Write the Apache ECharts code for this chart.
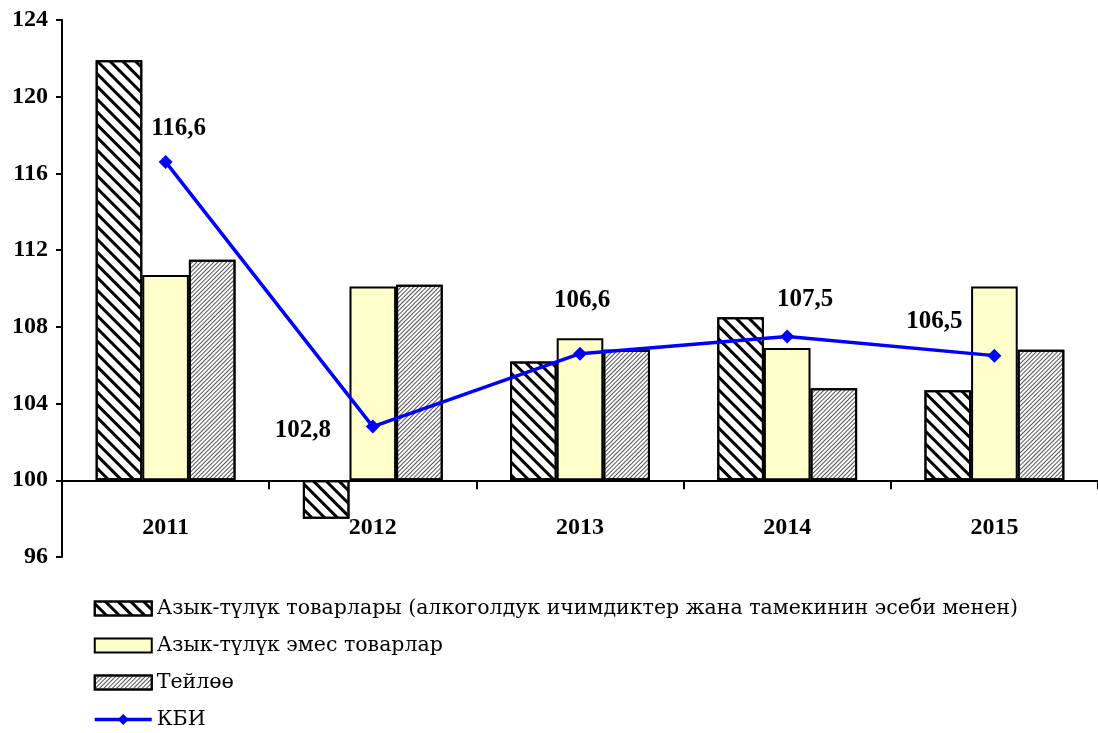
<!DOCTYPE html>
<html>
<head>
<meta charset="utf-8">
<script src="https://cdn.jsdelivr.net/npm/echarts@6/dist/echarts.min.js"></script>
<style>
  html, body { margin: 0; padding: 0; background: #fff; }
  #main { width: 1098px; height: 733px; }
</style>
</head>
<body>
<div id="main"></div>
<script>
// данные
var years = ['2011', '2012', '2013', '2014', '2015'];
var foodGoods = [121.9, 98.0, 106.2, 108.5, 104.7];
var nonFoodGoods = [110.7, 110.1, 107.4, 106.9, 110.1];
var tailoring = [111.5, 110.2, 106.8, 104.8, 106.8];
var cpi = [116.6, 102.8, 106.6, 107.5, 106.5];
var seriesNames = [
    'Азык-түлүк товарлары (алкоголдук ичимдиктер жана тамекинин эсеби менен)',
    'Азык-түлүк эмес товарлар',
    'Тейлөө',
    'КБИ'
];
var yTicks = [96, 100, 104, 108, 112, 116, 120, 124];

// ось проходит через 100, поэтому всё считаем от 100
var BASE = 100;
function shift(arr) {
    return arr.map(function (v) { return +(v - BASE).toFixed(2); });
}
function fmt(v) {
    return String(v).replace('.', ',');
}

// смещения подписей КБИ (в пикселях)
var labelOffsets = [[13, -33], [-70, 4], [2, -53], [18, -37], [-60, -34]];

var font = '"Liberation Serif", "DejaVu Serif", serif';

var cpiData = shift(cpi).map(function (v, i) {
    return {
        value: v,
        label: { offset: labelOffsets[i] }
    };
});

var barBorder = { borderColor: '#000', borderWidth: 2 };

var option = {
    backgroundColor: '#fff',
    animation: false,
    grid: {
        left: 62,
        right: -8,
        top: 20,
        bottom: 176
    },
    legend: {
        orient: 'vertical',
        left: 93,
        top: 598,
        padding: 0,
        itemWidth: 57,
        itemHeight: 14,
        itemGap: 16,
        textStyle: {
            fontFamily: '"DejaVu Serif", serif',
            fontSize: 20.5,
            color: '#000'
        },
        data: [
            { name: seriesNames[0], icon: 'rect' },
            { name: seriesNames[1], icon: 'rect' },
            { name: seriesNames[2], icon: 'rect' },
            { name: seriesNames[3], lineStyle: { width: 3.5 } }
        ]
    },
    xAxis: {
        type: 'category',
        data: years,
        axisLine: { onZero: true, lineStyle: { color: '#000', width: 2 } },
        axisTick: { show: true, length: 9, lineStyle: { color: '#000', width: 2 } },
        axisLabel: {
            margin: -41,
            fontFamily: font,
            fontWeight: 'bold',
            fontSize: 24,
            color: '#000'
        },
        splitLine: { show: false }
    },
    yAxis: {
        type: 'value',
        min: yTicks[0] - BASE,
        max: yTicks[yTicks.length - 1] - BASE,
        interval: 4,
        axisLine: { show: true, lineStyle: { color: '#000', width: 2 } },
        axisTick: { show: true, length: 6, lineStyle: { color: '#000', width: 2 } },
        axisLabel: {
            margin: 14,
            fontFamily: font,
            fontWeight: 'bold',
            fontSize: 24,
            color: '#000',
            formatter: function (v) { return String(v + BASE); }
        },
        splitLine: { show: false }
    },
    series: [
        {
            name: seriesNames[0],
            type: 'bar',
            data: shift(foodGoods),
            barGap: '0%',
            barCategoryGap: '32.5%',
            itemStyle: Object.assign({
                color: '#fff',
                decal: {
                    color: '#000',
                    dashArrayX: [1, 0],
                    dashArrayY: [3, 6],
                    rotation: Math.PI / 4
                }
            }, barBorder)
        },
        {
            name: seriesNames[1],
            type: 'bar',
            data: shift(nonFoodGoods),
            barGap: '0%',
            barCategoryGap: '32.5%',
            itemStyle: Object.assign({ color: '#FFFFCC' }, barBorder)
        },
        {
            name: seriesNames[2],
            type: 'bar',
            data: shift(tailoring),
            barGap: '0%',
            barCategoryGap: '32.5%',
            itemStyle: Object.assign({
                color: '#fff',
                decal: {
                    color: '#555',
                    dashArrayX: [1, 0],
                    dashArrayY: [1, 2],
                    rotation: -Math.PI / 4
                }
            }, barBorder)
        },
        {
            name: seriesNames[3],
            type: 'line',
            data: cpiData,
            z: 5,
            symbol: 'diamond',
            symbolSize: 14,
            lineStyle: { color: '#0000FF', width: 3.5 },
            itemStyle: { color: '#0000FF' },
            label: {
                show: true,
                position: 'inside',
                fontFamily: font,
                fontWeight: 'bold',
                fontSize: 25,
                color: '#000',
                formatter: function (p) { return fmt(cpi[p.dataIndex]); }
            }
        }
    ]
};

var myChart = echarts.init(document.getElementById('main'));
myChart.setOption(option);
</script>
</body>
</html>
